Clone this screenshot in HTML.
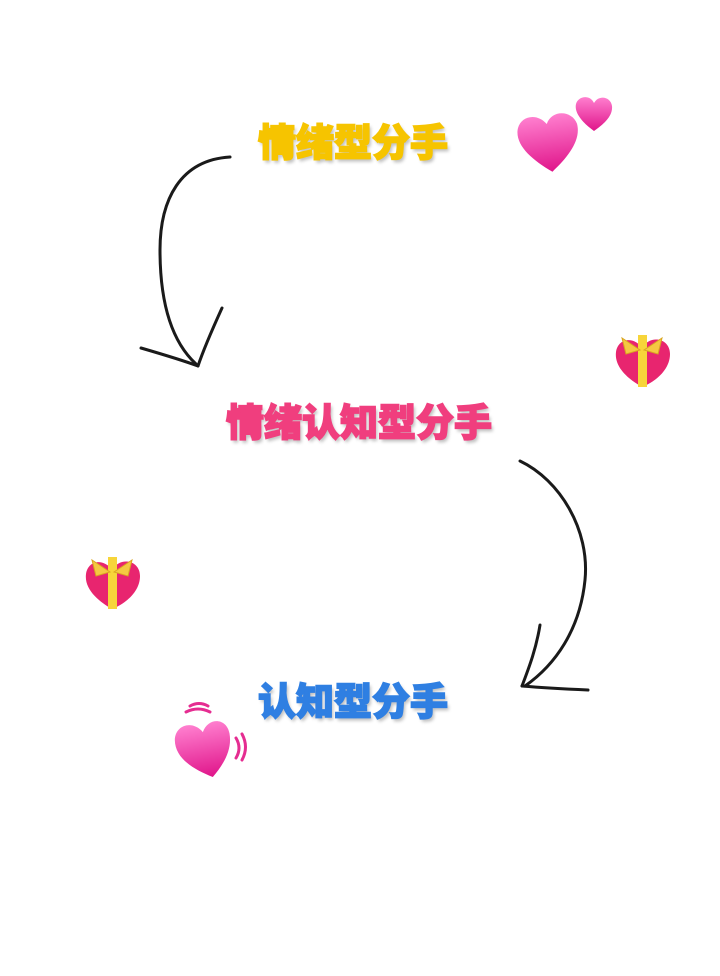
<!DOCTYPE html>
<html><head><meta charset="utf-8"><style>
body{margin:0;width:720px;height:976px;background:#fff;position:relative;overflow:hidden;font-family:"Liberation Sans","Noto Sans CJK SC",sans-serif}
.t{position:absolute;font-family:"Noto Sans CJK SC","WenQuanYi Zen Hei",sans-serif;font-weight:900;font-size:38px;line-height:1;letter-spacing:0;text-shadow:2px 3px 3px rgba(0,0,0,.25);-webkit-text-stroke:1.5px currentColor;white-space:nowrap}
svg{position:absolute;left:0;top:0}
</style></head><body>
<div class="t" style="left:258px;top:121px;color:#f6c400">情绪型分手</div>
<div class="t" style="left:226px;top:401px;color:#f03e7e">情绪认知型分手</div>
<div class="t" style="left:258px;top:680px;color:#2f7fe2">认知型分手</div>
<svg width="720" height="976" viewBox="0 0 720 976">
<defs>
<linearGradient id="hg" x1="0" y1="0" x2="0" y2="1"><stop offset="0" stop-color="#ff7fcf"/><stop offset="1" stop-color="#e0158a"/></linearGradient>
</defs>
<g fill="none" stroke="#1a1a1a" stroke-width="3" stroke-linecap="round">
<path d="M230 157 C180 160 160 200 160 250 C160 300 170 340 196 364"/>
<path d="M141 348 C165 355 182 360 198 366"/>
<path d="M222 308 C212 330 204 348 198 366"/>
<path d="M520 461 C560 480 590 530 585 580 C580 630 555 665 525 686"/>
<path d="M540 625 C536 650 528 670 522 686"/>
<path d="M522 686 C545 688 565 689 588 690"/>
</g>
<g fill="url(#hg)">
<path d="M548 172 C530 158 516 142 519 127 C522 113 540 110 549 124 C556 110 576 114 579 128 C581 145 565 160 548 172Z" transform="rotate(-8 548 140)"/>
<path d="M594 131 C583 123 574 113 576 104 C578 96 590 94 594 103 C599 94 611 97 612 106 C613 116 604 124 594 131Z"/>
<path d="M208 778 C192 768 174 754 177 735 C180 720 198 718 206 732 C214 718 232 722 232 738 C232 755 220 768 208 778Z" transform="rotate(-10 205 750)"/>
</g>
<g fill="none" stroke="#e52d91" stroke-width="3" stroke-linecap="round">
<path d="M186 712 q12 -6 24 0"/><path d="M190 706 q9 -5 18 0"/>
<path d="M236 738 q6 10 0 20"/><path d="M242 734 q7 13 0 26"/>
</g>
<g>
<path d="M642 387 C630 380 614 368 616 352 C618 338 634 336 642 348 C650 334 670 338 670 354 C670 370 655 382 642 387Z" fill="#e8256f"/>
<rect x="638" y="335" width="9" height="52" fill="#f7d53a"/>
<path d="M640 350 l-18 -12 l4 16Z M644 350 l18 -12 l-4 16Z" fill="#f5c842" stroke="#d9a520"/>
<path d="M112 609 C100 602 84 590 86 574 C88 560 104 558 112 570 C120 556 140 560 140 576 C140 592 125 604 112 609Z" fill="#e8256f"/>
<rect x="108" y="557" width="9" height="52" fill="#f7d53a"/>
<path d="M110 572 l-18 -12 l4 16Z M114 572 l18 -12 l-4 16Z" fill="#f5c842" stroke="#d9a520"/>
</g>
</svg>
</body></html>
